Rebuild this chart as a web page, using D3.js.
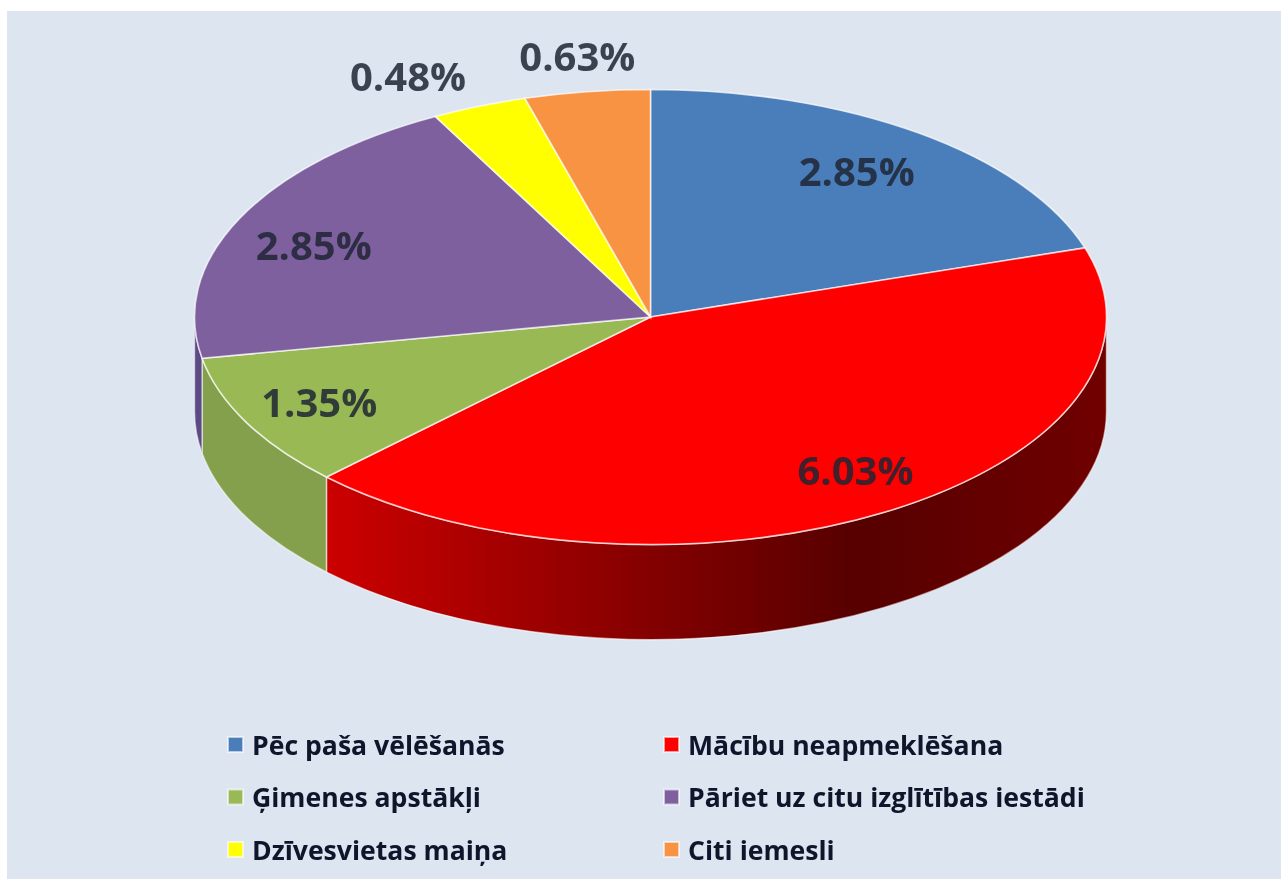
<!DOCTYPE html>
<html>
  <head>
    <meta charset="UTF-8">
    <script src="https://d3js.org/d3.v7.min.js"></script>
    <style>
      html, body { margin: 0; padding: 0; background: #fff; overflow: hidden; }
      svg { display: block; }
      text { font-family: "Open Sans", "Noto Sans", sans-serif; font-weight: 700; }
    </style>
  </head>
  <body>
    <svg class="chart"></svg>
    <script type="text/javascript">

     var categories = ["Pēc paša vēlēšanās", "Mācību neapmeklēšana", "Ģimenes apstākļi",
                       "Pāriet uz citu izglītības iestādi", "Dzīvesvietas maiņa", "Citi iemesli"];
     var values = [2.85, 6.03, 1.35, 2.85, 0.48, 0.63];
     var labels = ["2.85%", "6.03%", "1.35%", "2.85%", "0.48%", "0.63%"];
     var colors = ["#4a7ebb", "#ff0000", "#98b954", "#7f609f", "#ffff00", "#f79343"];
     var sideColors = ["#3f6797", "url(#redSide)", "#84a04c", "#5c4a84", "#cccc00", "#c57838"];

     var width = 1281,
         height = 879,
         cx = 650.5,
         cy = 317,
         rx = 456,
         ry = 227.5,
         depth = 95;

     // hand placed data labels in the original, small nudges from the computed spot
     var labelNudge = [[-9, 2], [16, -2], [-8, 1], [-8, 7], [-42, 6], [1, 3]];

     var chart = d3.select(".chart")
                   .attr("width", width)
                   .attr("height", height);

     var defs = chart.append("defs");

     var grad = defs.append("linearGradient")
                    .attr("id", "redSide")
                    .attr("gradientUnits", "userSpaceOnUse")
                    .attr("x1", 326).attr("x2", 1107).attr("y1", 0).attr("y2", 0);
     [[0, "#cc0000"], [0.35, "#8f0000"], [0.68, "#560000"], [1, "#700000"]].forEach(function(s) {
         grad.append("stop").attr("offset", s[0]).attr("stop-color", s[1]);
     });

     // the reference is a soft jpeg, text is slightly blurred
     defs.append("filter").attr("id", "soft")
         .append("feGaussianBlur").attr("stdDeviation", 0.7);

     chart.append("rect")
          .attr("x", 7).attr("y", 11)
          .attr("width", width - 7).attr("height", height - 11)
          .attr("fill", "#dde5f1");

     var slices = d3.pie().sort(null).value(function(d) { return d; })(values);

     function pt(a, dy) {
         return [cx + rx * Math.sin(a), cy - ry * Math.cos(a) + (dy || 0)];
     }

     // side wall is only visible on the front half of the ellipse
     function sidePath(d) {
         var a0 = Math.max(d.startAngle, Math.PI / 2),
             a1 = Math.min(d.endAngle, 3 * Math.PI / 2);
         if (a1 <= a0) return null;
         var p0 = pt(a0), p1 = pt(a1), p2 = pt(a1, depth), p3 = pt(a0, depth);
         return "M" + p0 + " A" + rx + "," + ry + " 0 0,1 " + p1 +
                " L" + p2 + " A" + rx + "," + ry + " 0 0,0 " + p3 + " Z";
     }

     chart.append("g").attr("class", "sides")
          .selectAll("path")
          .data(slices.filter(function(d) { return sidePath(d); }))
          .enter().append("path")
          .attr("d", sidePath)
          .attr("fill", function(d) { return sideColors[d.index]; })
          .attr("stroke", "#ffffff")
          .attr("stroke-opacity", 0.55)
          .attr("stroke-width", 1.5);

     var arc = d3.arc().innerRadius(0).outerRadius(rx);

     chart.append("g").attr("class", "tops")
          .attr("transform", "translate(" + cx + "," + cy + ") scale(1," + (ry / rx) + ")")
          .selectAll("path")
          .data(slices)
          .enter().append("path")
          .attr("d", arc)
          .attr("fill", function(d) { return colors[d.index]; })
          .attr("stroke", "#ffffff")
          .attr("stroke-opacity", 0.7)
          .attr("stroke-width", 1.6)
          .attr("vector-effect", "non-scaling-stroke");

     // labels inside big slices, outside for the two small ones
     function labelPos(d) {
         var mid = (d.startAngle + d.endAngle) / 2,
             r = d.value < 1 ? 1.17 : 0.8;
         return [cx + rx * r * Math.sin(mid) + labelNudge[d.index][0],
                 cy - ry * r * Math.cos(mid) + labelNudge[d.index][1]];
     }

     chart.append("g").attr("class", "labels")
          .attr("filter", "url(#soft)")
          .selectAll("text")
          .data(slices)
          .enter().append("text")
          .attr("x", function(d) { return labelPos(d)[0]; })
          .attr("y", function(d) { return labelPos(d)[1]; })
          .attr("dy", "0.36em")
          .attr("text-anchor", "middle")
          .attr("font-size", 40)
          .attr("fill", "#1c2434")
          .attr("fill-opacity", 0.85)
          .text(function(d) { return labels[d.index]; });

     // legend: two columns, three rows
     var colX = d3.scalePoint().domain([0, 1]).range([228, 664]);
     var rowY = d3.scalePoint().domain([0, 1, 2]).range([745, 850]);

     var legend = chart.append("g").attr("class", "legend")
                       .selectAll("g")
                       .data(categories)
                       .enter().append("g")
                       .attr("transform", function(d, i) {
                           return "translate(" + colX(i % 2) + "," + rowY(Math.floor(i / 2)) + ")";
                       });

     legend.append("rect")
           .attr("x", 0).attr("y", -8)
           .attr("width", 15).attr("height", 15)
           .attr("fill", function(d, i) { return colors[i]; })
           .attr("stroke", "#ffffff")
           .attr("stroke-opacity", 0.6)
           .attr("stroke-width", 2)
           .attr("filter", "url(#soft)");

     legend.append("text")
           .attr("x", 24)
           .attr("dy", "0.36em")
           .attr("font-size", 26.6)
           .attr("fill", "#10162a")
           .attr("filter", "url(#soft)")
           .text(function(d) { return d; });

    </script>
  </body>
</html>
